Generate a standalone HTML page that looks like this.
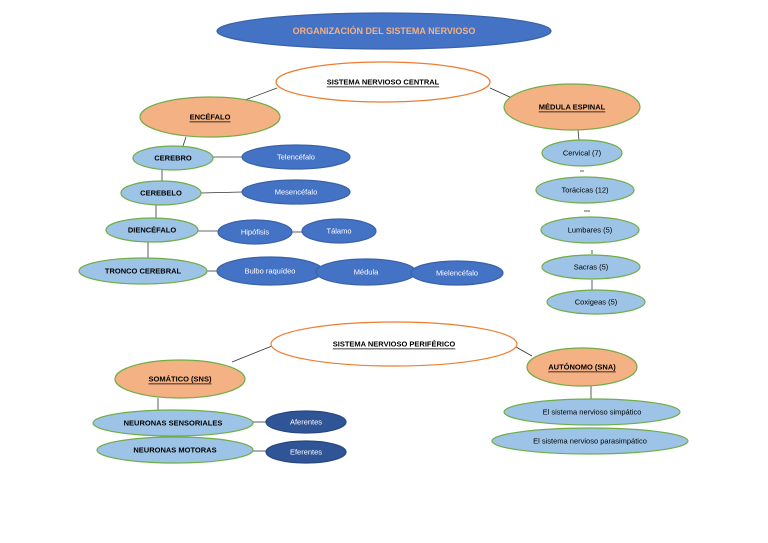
<!DOCTYPE html>
<html><head><meta charset="utf-8"><style>
html,body{margin:0;padding:0;background:#fff;width:768px;height:543px;overflow:hidden}
text{font-family:"Liberation Sans",sans-serif;font-size:7.5px;text-anchor:middle;dominant-baseline:central}
.b{font-weight:bold}
.w{fill:#fff}
.u{text-decoration:underline;font-weight:bold}
</style></head><body>
<svg width="768" height="543" viewBox="0 0 768 543" xmlns="http://www.w3.org/2000/svg">
<g stroke="#333" stroke-width="0.8" fill="none">
<line x1="277" y1="88" x2="245" y2="100"/>
<line x1="490" y1="88" x2="512" y2="98"/>
<line x1="186" y1="137" x2="183" y2="146"/>
<line x1="213" y1="157" x2="242" y2="157"/>
<line x1="162" y1="170" x2="162" y2="181"/>
<line x1="201" y1="193" x2="242" y2="192"/>
<line x1="156" y1="205" x2="156" y2="218"/>
<line x1="198" y1="231" x2="218" y2="231"/>
<line x1="292" y1="232" x2="302" y2="232"/>
<line x1="148" y1="242" x2="148" y2="258"/>
<line x1="207" y1="271" x2="217" y2="271"/>
<line x1="578" y1="130" x2="579" y2="140"/>
<line x1="580" y1="171" x2="584" y2="171"/>
<line x1="584" y1="211" x2="590" y2="211"/>
<line x1="592" y1="250" x2="592" y2="254"/>
<line x1="592" y1="280" x2="592" y2="290"/>
<line x1="272" y1="346" x2="232" y2="362"/>
<line x1="516" y1="347" x2="532" y2="356"/>
<line x1="158" y1="398" x2="158" y2="410"/>
<line x1="253" y1="422" x2="266" y2="422"/>
<line x1="253" y1="451" x2="266" y2="451"/>
<line x1="591" y1="386" x2="591" y2="399"/>
</g>
<g stroke-width="1.2">
<ellipse cx="384" cy="31" rx="167" ry="18" fill="#4472c4" stroke="#3a62a8"/>
<ellipse cx="383" cy="82" rx="107" ry="20" fill="#fff" stroke="#ed7d31"/>
<ellipse cx="210" cy="117" rx="70" ry="20" fill="#f4b183" stroke="#70ad47"/>
<ellipse cx="572" cy="107" rx="68" ry="23" fill="#f4b183" stroke="#70ad47"/>
<ellipse cx="173" cy="158" rx="40" ry="12" fill="#9dc3e6" stroke="#70ad47"/>
<ellipse cx="161" cy="193" rx="40" ry="12" fill="#9dc3e6" stroke="#70ad47"/>
<ellipse cx="152" cy="230" rx="46" ry="12" fill="#9dc3e6" stroke="#70ad47"/>
<ellipse cx="143" cy="271" rx="64" ry="13" fill="#9dc3e6" stroke="#70ad47"/>
<ellipse cx="296" cy="157" rx="54" ry="12" fill="#4472c4" stroke="#3a62a8"/>
<ellipse cx="296" cy="192" rx="54" ry="12" fill="#4472c4" stroke="#3a62a8"/>
<ellipse cx="255" cy="232" rx="37" ry="12" fill="#4472c4" stroke="#3a62a8"/>
<ellipse cx="339" cy="231" rx="37" ry="12" fill="#4472c4" stroke="#3a62a8"/>
<ellipse cx="270" cy="271" rx="53" ry="14" fill="#4472c4" stroke="#3a62a8"/>
<ellipse cx="366" cy="272" rx="50" ry="13" fill="#4472c4" stroke="#3a62a8"/>
<ellipse cx="457" cy="273" rx="46" ry="12" fill="#4472c4" stroke="#3a62a8"/>
<ellipse cx="582" cy="153" rx="40" ry="13" fill="#9dc3e6" stroke="#70ad47"/>
<ellipse cx="585" cy="190" rx="49" ry="13" fill="#9dc3e6" stroke="#70ad47"/>
<ellipse cx="590" cy="230" rx="49" ry="13" fill="#9dc3e6" stroke="#70ad47"/>
<ellipse cx="591" cy="267" rx="49" ry="12" fill="#9dc3e6" stroke="#70ad47"/>
<ellipse cx="596" cy="302" rx="49" ry="12" fill="#9dc3e6" stroke="#70ad47"/>
<ellipse cx="394" cy="344" rx="123" ry="22" fill="#fff" stroke="#ed7d31"/>
<ellipse cx="180" cy="379" rx="65" ry="19" fill="#f4b183" stroke="#70ad47"/>
<ellipse cx="582" cy="367" rx="55" ry="19" fill="#f4b183" stroke="#70ad47"/>
<ellipse cx="173" cy="423" rx="80" ry="13" fill="#9dc3e6" stroke="#70ad47"/>
<ellipse cx="175" cy="450" rx="78" ry="13" fill="#9dc3e6" stroke="#70ad47"/>
<ellipse cx="306" cy="422" rx="40" ry="11" fill="#2f5597" stroke="#264780"/>
<ellipse cx="306" cy="452" rx="40" ry="11" fill="#2f5597" stroke="#264780"/>
<ellipse cx="592" cy="412" rx="88" ry="13" fill="#9dc3e6" stroke="#70ad47"/>
<ellipse cx="590" cy="441" rx="98" ry="13" fill="#9dc3e6" stroke="#70ad47"/>
</g>
<text x="384" y="31" class="b" style="fill:#f4b183;font-size:9px">ORGANIZACIÓN DEL SISTEMA NERVIOSO</text>
<text x="383" y="82" class="u">SISTEMA NERVIOSO CENTRAL</text>
<text x="210" y="117" class="u">ENCÉFALO</text>
<text x="572" y="107" class="u">MÉDULA ESPINAL</text>
<text x="173" y="158" class="b">CEREBRO</text>
<text x="161" y="193" class="b">CEREBELO</text>
<text x="152" y="230" class="b">DIENCÉFALO</text>
<text x="143" y="271" class="b">TRONCO CEREBRAL</text>
<text x="296" y="157" class="w">Telencéfalo</text>
<text x="296" y="192" class="w">Mesencéfalo</text>
<text x="255" y="232" class="w">Hipófisis</text>
<text x="339" y="231" class="w">Tálamo</text>
<text x="270" y="271" class="w">Bulbo raquídeo</text>
<text x="366" y="272" class="w">Médula</text>
<text x="457" y="273" class="w">Mielencéfalo</text>
<text x="582" y="153">Cervical (7)</text>
<text x="585" y="190">Torácicas (12)</text>
<text x="590" y="230">Lumbares (5)</text>
<text x="591" y="267">Sacras (5)</text>
<text x="596" y="302">Coxigeas (5)</text>
<text x="394" y="344" class="u">SISTEMA NERVIOSO PERIFÉRICO</text>
<text x="180" y="379" class="u">SOMÁTICO (SNS)</text>
<text x="582" y="367" class="u">AUTÓNOMO (SNA)</text>
<text x="173" y="423" class="b">NEURONAS SENSORIALES</text>
<text x="175" y="450" class="b">NEURONAS MOTORAS</text>
<text x="306" y="422" class="w">Aferentes</text>
<text x="306" y="452" class="w">Eferentes</text>
<text x="592" y="412">El sistema nervioso simpático</text>
<text x="590" y="441">El sistema nervioso parasimpático</text>
</svg>
</body></html>
